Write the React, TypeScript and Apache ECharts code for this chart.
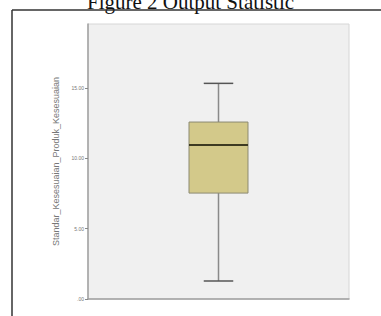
import React, { useEffect, useRef } from "react";
import * as echarts from "echarts";

const categories = ["Variable"];
// [min, Q1, median, Q3, max]
const boxValues = [[1.28, 7.53, 10.95, 12.58, 15.33]];
const yTicks = [0, 5, 10, 15];
const titleText = "Figure 2 Output Statistic";
const yName = "Standar_Kesesuaian_Produk_Kesesuaian";

export default function App() {
  const ref = useRef<HTMLDivElement>(null);
  useEffect(() => {
    if (!ref.current) return;
    const chart = echarts.init(ref.current, null, { renderer: "svg" });
    chart.setOption({
      animation: false,
      backgroundColor: "#ffffff",
      graphic: [
        {
          type: "text",
          left: "center",
          top: -9,
          style: {
            text: titleText,
            font: "21px 'Liberation Serif', serif",
            fill: "#111",
          },
        },
        {
          type: "line",
          shape: { x1: 12, y1: 10, x2: 381, y2: 10 },
          style: { stroke: "#333", lineWidth: 1.5 },
        },
        {
          type: "line",
          shape: { x1: 12, y1: 10, x2: 12, y2: 316 },
          style: { stroke: "#333", lineWidth: 1.5 },
        },
      ],
      grid: {
        left: 88,
        right: 32,
        top: 24,
        bottom: 17,
        show: true,
        backgroundColor: "#f0f0f0",
        borderColor: "#d6d6d6",
        borderWidth: 1,
      },
      xAxis: {
        type: "category",
        data: categories,
        axisLabel: { show: false },
        axisTick: { show: false },
        axisLine: { show: true, lineStyle: { color: "#a0a0a0", width: 1.5 } },
      },
      yAxis: {
        type: "value",
        min: 0,
        max: 19.55,
        interval: 5,
        name: yName,
        nameLocation: "middle",
        nameGap: 23,
        nameRotate: 90,
        nameTextStyle: {
          fontSize: 9,
          color: "#777",
          fontFamily: "'Liberation Sans', Arial, sans-serif",
        },
        axisLine: { show: true, lineStyle: { color: "#a0a0a0", width: 1.5 } },
        axisTick: { show: true, length: 3, lineStyle: { color: "#888" } },
        axisLabel: {
          showMaxLabel: false,
          fontSize: 5,
          color: "#777",
          margin: 4,
          formatter: (v: number) => (yTicks.indexOf(v) === -1 ? "" : v === 0 ? ".00" : v.toFixed(2)),
        },
        splitLine: { show: false },
      },
      series: [
        {
          type: "custom",
          data: boxValues.map((b, i) => [i, ...b]),
          encode: { x: 0, y: [1, 2, 3, 4, 5] },
          renderItem: (params: any, api: any) => {
            const xi = api.value(0);
            const pMin = api.coord([xi, api.value(1)]);
            const pQ1 = api.coord([xi, api.value(2)]);
            const pMed = api.coord([xi, api.value(3)]);
            const pQ3 = api.coord([xi, api.value(4)]);
            const pMax = api.coord([xi, api.value(5)]);
            const bw = api.size([1, 0])[0] * 0.226;
            const cw = bw * 0.5;
            const cx = pMed[0];
            const whisker = { stroke: "#8a8a8a", lineWidth: 1.5 };
            return {
              type: "group",
              children: [
                { type: "line", shape: { x1: cx, y1: pMax[1], x2: cx, y2: pQ3[1] }, style: whisker },
                { type: "line", shape: { x1: cx, y1: pQ1[1], x2: cx, y2: pMin[1] }, style: whisker },
                { type: "line", shape: { x1: cx - cw / 2, y1: pMax[1], x2: cx + cw / 2, y2: pMax[1] }, style: { stroke: "#555", lineWidth: 1.5 } },
                { type: "line", shape: { x1: cx - cw / 2, y1: pMin[1], x2: cx + cw / 2, y2: pMin[1] }, style: { stroke: "#555", lineWidth: 1.5 } },
                {
                  type: "rect",
                  shape: { x: cx - bw / 2, y: pQ3[1], width: bw, height: pQ1[1] - pQ3[1] },
                  style: { fill: "#d3c98a", stroke: "#8c8a72", lineWidth: 1 },
                },
                {
                  type: "line",
                  shape: { x1: cx - bw / 2, y1: pMed[1], x2: cx + bw / 2, y2: pMed[1] },
                  style: { stroke: "#3d3a22", lineWidth: 2 },
                },
              ],
            };
          },
        },
      ],
    });
    return () => chart.dispose();
  }, []);
  return (
    <div
      ref={ref}
      style={{ position: "fixed", left: 0, top: 0, width: 381, height: 316 }}
    />
  );
}
